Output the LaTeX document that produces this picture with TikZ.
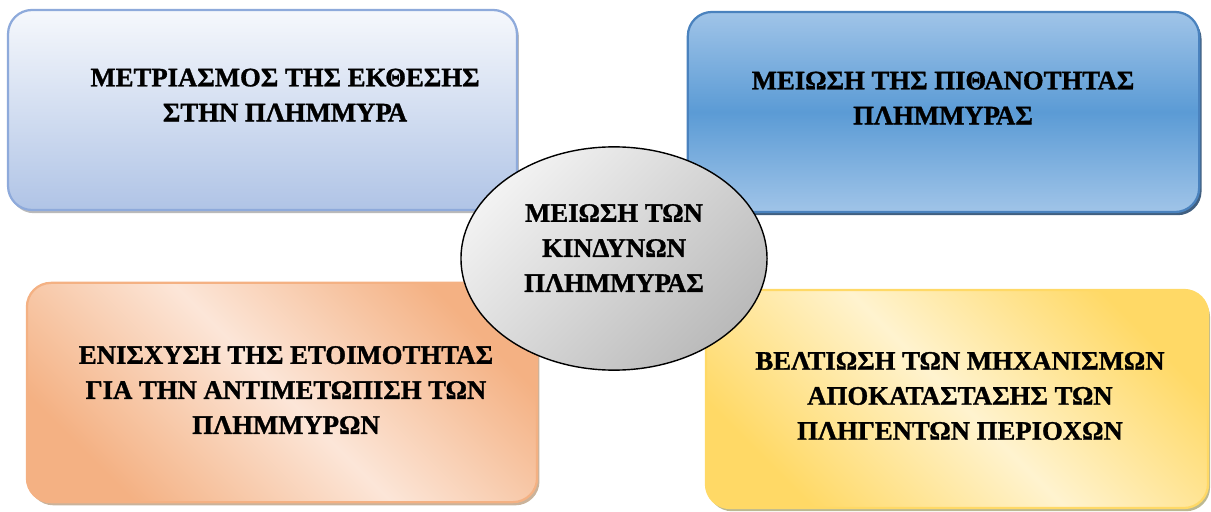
\documentclass[tikz,border=0pt]{standalone}
\usepackage{fontspec}
\setmainfont{Liberation Serif}[BoldFeatures={FakeBold=1.2}]
\usetikzlibrary{shapes.geometric,shadows}

\definecolor{expoTop}{HTML}{F6F8FC}
\definecolor{expoBot}{HTML}{B0C4E6}
\definecolor{expoEdge}{HTML}{8EAADB}
\definecolor{probLight}{HTML}{A0C4E8}
\definecolor{probMid}{HTML}{5B9BD5}
\definecolor{probEdge}{HTML}{4A82BE}
\definecolor{prepDark}{HTML}{F4B183}
\definecolor{prepLight}{HTML}{FCE6D8}
\definecolor{recDark}{HTML}{FFD966}
\definecolor{recLight}{HTML}{FFF3CF}

\tikzset{
  panel/.style={draw, rounded corners=0.6cm, line width=1.6pt, inner sep=0pt, outer sep=0pt},
  caption/.style={align=center, font=\bfseries\fontsize{19}{24.9}\selectfont},
}

\begin{document}
\begin{tikzpicture}[x=0.025cm, y=-0.025cm]
  \useasboundingbox (0,0) rectangle (1211,512);
  %boxes
  \node[panel, draw=expoEdge, top color=expoTop, bottom color=expoBot,
        drop shadow={shadow xshift=0.05cm, shadow yshift=-0.08cm, fill=black!45, opacity=0.6},
        minimum width=12.72cm, minimum height=5cm] at (262.5,110) (expo) {};
  \node[panel, draw=probEdge, top color=probLight, bottom color=probLight, middle color=probMid,
        drop shadow={shadow xshift=0.06cm, shadow yshift=-0.08cm, fill=probEdge!60!black, opacity=0.9},
        minimum width=12.78cm, minimum height=5cm] at (943.5,112) (prob) {};
  \node[panel, draw=prepDark, top color=prepDark, bottom color=prepDark, middle color=prepLight, shading angle=-45,
        drop shadow={shadow xshift=0.06cm, shadow yshift=-0.08cm, fill=brown!60!gray, opacity=0.6},
        minimum width=12.75cm, minimum height=5.48cm] at (282,392.5) (prep) {};
  \node[panel, draw=recDark, top color=recDark, bottom color=recDark, middle color=recLight, shading angle=-45,
        drop shadow={shadow xshift=0.05cm, shadow yshift=-0.08cm, fill=olive!50!gray, opacity=0.6},
        minimum width=12.55cm, minimum height=5.45cm] at (957,399) (rec) {};
  %centre
  \node[draw, ellipse, line width=1pt, inner sep=0pt, top color=black!5, bottom color=black!27, shading angle=45,
        minimum width=7.65cm, minimum height=5.58cm] at (614,258.5) (risk) {};
  %texts
  \node[caption] at (285,95) (expotext) {ΜΕΤΡΙΑΣΜΟΣ ΤΗΣ ΕΚΘΕΣΗΣ\\ΣΤΗΝ ΠΛΗΜΜΥΡΑ};
  \node[caption] at (943,98) (probtext) {ΜΕΙΩΣΗ ΤΗΣ ΠΙΘΑΝΟΤΗΤΑΣ\\ΠΛΗΜΜΥΡΑΣ};
  \node[caption] at (286,390) (preptext) {ΕΝΙΣΧΥΣΗ ΤΗΣ ΕΤΟΙΜΟΤΗΤΑΣ\\ΓΙΑ ΤΗΝ ΑΝΤΙΜΕΤΩΠΙΣΗ ΤΩΝ\\ΠΛΗΜΜΥΡΩΝ};
  \node[caption] at (960,396) (rectext) {ΒΕΛΤΙΩΣΗ ΤΩΝ ΜΗΧΑΝΙΣΜΩΝ\\ΑΠΟΚΑΤΑΣΤΑΣΗΣ ΤΩΝ\\ΠΛΗΓΕΝΤΩΝ ΠΕΡΙΟΧΩΝ};
  \node[caption] at (614,248) (risktext) {ΜΕΙΩΣΗ ΤΩΝ\\ΚΙΝΔΥΝΩΝ\\ΠΛΗΜΜΥΡΑΣ};
\end{tikzpicture}
\end{document}
